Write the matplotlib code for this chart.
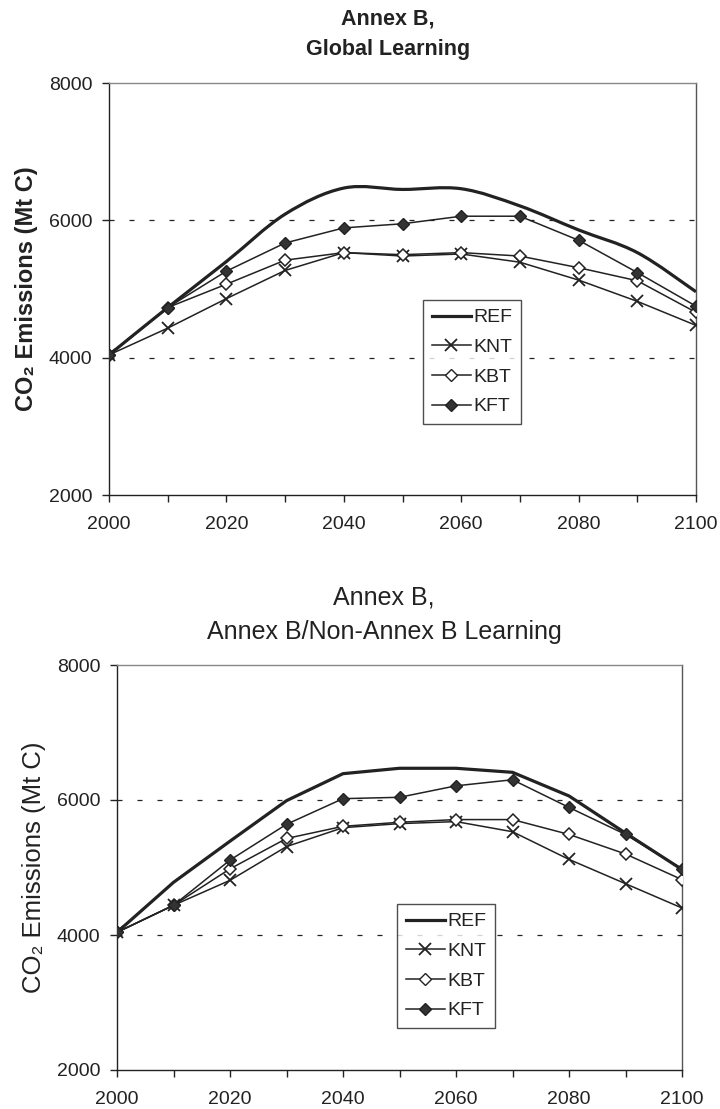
import matplotlib
matplotlib.use("Agg")
import matplotlib.pyplot as plt
from matplotlib.path import Path
from matplotlib.patches import PathPatch
from matplotlib.lines import Line2D

plt.rcParams['font.family'] = ['Liberation Sans', 'DejaVu Sans']

years = [2000, 2010, 2020, 2030, 2040, 2050, 2060, 2070, 2080, 2090, 2100]
year_labels = ['2000', '2020', '2040', '2060', '2080', '2100']
y_ticks = [2000, 4000, 6000, 8000]

# Annex B, global learning
top_ref = [4040, 4730, 5400, 6090, 6470, 6450, 6460, 6210, 5860, 5530, 4960]
top_knt = [4040, 4430, 4860, 5270, 5530, 5480, 5510, 5390, 5130, 4820, 4470]
top_kbt = [4040, 4730, 5070, 5420, 5530, 5500, 5530, 5480, 5310, 5120, 4660]
top_kft = [4040, 4730, 5260, 5670, 5890, 5950, 6060, 6060, 5710, 5240, 4750]

# Annex B, Annex B / Non-Annex B learning
bot_ref = [4040, 4780, 5390, 5990, 6390, 6470, 6470, 6410, 6060, 5510, 4970]
bot_knt = [4040, 4440, 4810, 5310, 5590, 5650, 5680, 5530, 5120, 4760, 4400]
bot_kbt = [4040, 4440, 4980, 5430, 5610, 5670, 5710, 5710, 5490, 5200, 4820]
bot_kft = [4040, 4440, 5110, 5640, 6020, 6040, 6210, 6300, 5890, 5490, 4980]

series_names = ['REF', 'KNT', 'KBT', 'KFT']
ink = '#222222'


def smooth_path(xs, ys):
    # excel style smoothed line: bezier through the points
    pts = list(zip(xs, ys))
    verts = [pts[0]]
    codes = [Path.MOVETO]
    n = len(pts)
    for i in range(n - 1):
        p0 = pts[max(i - 1, 0)]
        p1 = pts[i]
        p2 = pts[i + 1]
        p3 = pts[min(i + 2, n - 1)]
        c1 = (p1[0] + (p2[0] - p0[0]) / 6, p1[1] + (p2[1] - p0[1]) / 6)
        c2 = (p2[0] - (p3[0] - p1[0]) / 6, p2[1] - (p3[1] - p1[1]) / 6)
        verts += [c1, c2, p2]
        codes += [Path.CURVE4] * 3
    return Path(verts, codes)


def draw_panel(ax, ref, knt, kbt, kft, smooth, ylab_weight, ylab_size, legend_xy):
    for yv in [4000, 6000]:
        ax.axhline(yv, color=ink, lw=0.9, ls=(0, (4, 12)), zorder=1)

    if smooth:
        ax.add_patch(PathPatch(smooth_path(years, ref), fill=False,
                               ec=ink, lw=2.3, zorder=3))
    else:
        ax.plot(years, ref, color=ink, lw=2.3, zorder=3)
    ax.plot(years, knt, color=ink, lw=1.1, marker='x', ms=9, mew=1.3, zorder=4)
    ax.plot(years, kbt, color=ink, lw=1.1, marker='D', ms=6.5, mfc='white',
            mec=ink, mew=1.1, zorder=5)
    ax.plot(years, kft, color=ink, lw=1.1, marker='D', ms=6.5, mfc='#333333',
            mec=ink, zorder=6)

    ax.set_xlim(2000, 2100)
    ax.set_ylim(2000, 8000)
    ax.set_xticks(years, minor=True)
    ax.set_xticks(range(2000, 2101, 20))
    ax.set_xticklabels(year_labels)
    ax.set_yticks(y_ticks)
    ax.tick_params(which='both', direction='out', length=5, width=1, color=ink,
                   labelsize=14, labelcolor='#222222')
    ax.tick_params(axis='x', pad=10)
    ax.tick_params(axis='y', pad=7)
    for s in ax.spines.values():
        s.set_color(ink)
        s.set_linewidth(1.0)
    ax.spines['top'].set_color('#888888')
    ax.spines['right'].set_color('#555555')

    ax.set_ylabel('CO₂ Emissions (Mt C)', fontsize=ylab_size,
                  fontweight=ylab_weight, color='#222222', labelpad=8)

    handles = [
        Line2D([], [], color=ink, lw=2.3),
        Line2D([], [], color=ink, lw=1.1, marker='x', ms=9, mew=1.3),
        Line2D([], [], color=ink, lw=1.1, marker='D', ms=6, mfc='white', mec=ink),
        Line2D([], [], color=ink, lw=1.1, marker='D', ms=6, mfc='#333333', mec=ink),
    ]
    leg = ax.legend(handles, series_names, loc='upper left',
                    bbox_to_anchor=legend_xy, bbox_transform=fig.transFigure,
                    fontsize=14, frameon=True, fancybox=False, handlelength=2.0,
                    handletextpad=0.15, labelspacing=0.62, borderpad=0.45,
                    borderaxespad=0)
    leg.get_frame().set_edgecolor(ink)
    leg.get_frame().set_linewidth(1.0)
    for t in leg.get_texts():
        t.set_color('#222222')


W, H = 720, 1109
fig = plt.figure(figsize=(W / 100, H / 100), dpi=100)

ax1 = fig.add_axes([109 / W, 1 - 495 / H, (696 - 109) / W, (495 - 83) / H])
draw_panel(ax1, top_ref, top_knt, top_kbt, top_kft, True, 'bold', 17,
           (423 / W, 1 - 300 / H))

ax2 = fig.add_axes([117 / W, 1 - 1070 / H, (682 - 117) / W, (1070 - 665) / H])
draw_panel(ax2, bot_ref, bot_knt, bot_kbt, bot_kft, False, 'normal', 18.5,
           (397 / W, 1 - 904 / H))

fig.text(388 / W, 1 - 19 / H, 'Annex B,', ha='center', va='center',
         fontsize=15.5, fontweight='bold', color='#222222')
fig.text(388 / W, 1 - 50 / H, 'Global Learning', ha='center', va='center',
         fontsize=15.5, fontweight='bold', color='#222222')
fig.text(384 / W, 1 - 598 / H, 'Annex B,', ha='center', va='center',
         fontsize=18, color='#222222')
fig.text(384 / W, 1 - 632 / H, 'Annex B/Non-Annex B Learning', ha='center',
         va='center', fontsize=18, color='#222222')

fig.savefig('out.png', dpi=100, facecolor='white')
